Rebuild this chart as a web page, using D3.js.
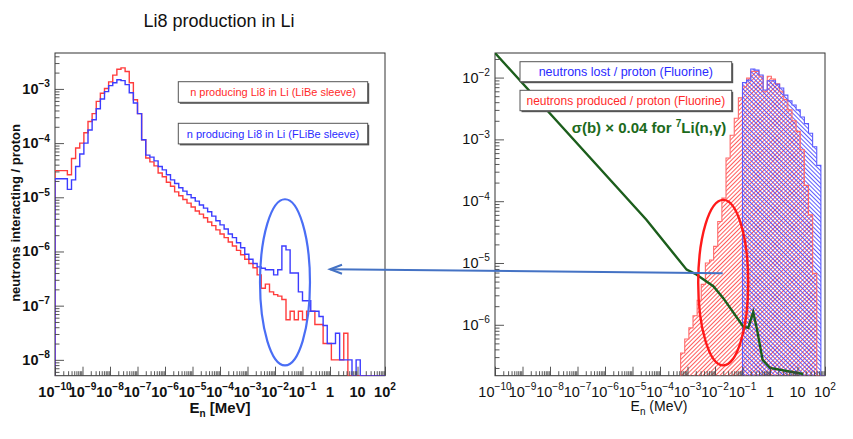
<!DOCTYPE html>
<html>
<head>
<meta charset="utf-8">
<script src="https://cdn.jsdelivr.net/npm/d3@7"></script>
<style>
  body { margin: 0; background: #fff; }
  text { font-family: "Liberation Sans", Arial, Helvetica, sans-serif; }
</style>
</head>
<body>
<div id="chart"></div>
<script>
// histogram binning: 80 log bins of 0.15 decade from 1e-10 MeV
const binLogMin = -10, binLogWidth = 0.15;

// left panel: n producing Li8 in Li, per bin
const libeSleeve = [
  3.1e-5, 3.1e-5, 3.1e-5, 2.6e-5, 5.2e-5, 8.1e-5, 1.0e-4, 1.55e-4, 2.5e-4, 3.5e-4,
  5.9e-4, 8.3e-4, 1.02e-3, 1.35e-3, 1.8e-3, 2.3e-3, 2.45e-3, 2.1e-3, 1.3e-3, 6.3e-4,
  3.5e-4, 1.15e-4, 5.3e-5, 4.5e-5, 3.8e-5, 2.8e-5, 2.4e-5, 1.9e-5, 1.6e-5, 1.26e-5,
  1.07e-5, 9.1e-6, 7.8e-6, 6.6e-6, 5.6e-6, 4.9e-6, 4.2e-6, 3.5e-6, 3.0e-6, 2.5e-6,
  2.1e-6, 1.8e-6, 1.5e-6, 1.26e-6, 1.05e-6, 8.7e-7, 7.2e-7, 6.0e-7, 5.0e-7, 3.7e-7,
  2.1e-7, 2.5e-7, 1.8e-7, 1.6e-7, 1.5e-7, 1.3e-7, 5.5e-8, 7.9e-8, 5.5e-8, 7.9e-8,
  5.5e-8, 7.9e-8, 7.9e-8, 4.5e-8, 4.5e-8, 2.0e-8, 2.0e-8, 1.0e-8, 1.0e-8, 1.0e-8,
  3.1e-8, 0, 0, 0, 0, 0, 0, 0, 0, 0
];
const flibeSleeve = [
  2.2e-5, 2.2e-5, 2.2e-5, 1.4e-5, 2.1e-5, 3.7e-5, 6.3e-5, 1.0e-4, 1.74e-4, 2.7e-4,
  4.3e-4, 6.5e-4, 8.9e-4, 1.15e-3, 1.3e-3, 1.48e-3, 1.42e-3, 1.2e-3, 8.5e-4, 5.5e-4,
  3.5e-4, 1.15e-4, 6.0e-5, 5.5e-5, 4.7e-5, 3.7e-5, 3.2e-5, 2.6e-5, 2.1e-5, 1.8e-5,
  1.5e-5, 1.3e-5, 1.12e-5, 9.8e-6, 8.5e-6, 7.2e-6, 6.3e-6, 5.4e-6, 4.5e-6, 3.7e-6,
  3.1e-6, 2.6e-6, 2.1e-6, 1.8e-6, 1.45e-6, 1.17e-6, 8.9e-7, 7.2e-7, 6.0e-7, 5.2e-7,
  4.9e-7, 4.6e-7, 4.6e-7, 3.7e-7, 4.6e-7, 1.26e-6, 1.07e-6, 4.0e-7, 4.0e-7, 1.8e-7,
  1.23e-7, 1.23e-7, 7.9e-8, 7.9e-8, 6.3e-8, 4.3e-8, 2.0e-8, 2.0e-8, 3.1e-8, 1.0e-8,
  1.0e-8, 1.0e-8, 0, 1.0e-8, 0, 0, 0, 0, 0, 0
];

// right panel: neutrons per proton (Fluorine), starting at the given bin
const producedFirstBin = 45;
const producedFluorine = [
  3.5e-7, 5.9e-7, 8.9e-7, 1.4e-6, 2.5e-6, 4.5e-6, 1.0e-5, 1.12e-5, 1.86e-5, 4.7e-5,
  1.12e-4, 5.0e-4, 1.17e-3, 2.2e-3, 4.7e-3, 7.1e-3, 9.8e-3, 1.26e-2, 1.26e-2, 1.05e-2,
  6.0e-3, 1.05e-2, 9.5e-3, 7.9e-3, 6.0e-3, 4.4e-3, 3.0e-3, 2.0e-3, 1.35e-3, 6.8e-4,
  1.8e-4, 6.0e-5, 6.8e-6, 0, 0
];
const lostFirstBin = 60;
const lostFluorine = [
  8.3e-3, 9.1e-3, 1.38e-2, 1.32e-2, 1.1e-2, 6.3e-3, 8.9e-3, 8.9e-3, 7.8e-3, 6.8e-3,
  5.2e-3, 4.2e-3, 3.6e-3, 3.0e-3, 2.3e-3, 1.8e-3, 1.26e-3, 7.6e-4, 3.8e-4, 0
];

// sigma(b) x 0.04 for 7Li(n,gamma)
const sigmaE   = [1e-10, 3.2e-5, 9.3e-4, 2.1e-3, 8.7e-3, 2.0e-2, 0.107, 0.162, 0.245, 0.339, 0.537, 1.0, 16.2];
const sigmaVal = [2.7e-2, 5.0e-5, 7.8e-6, 6.5e-6, 4.2e-6, 2.7e-6, 9.3e-7, 8.9e-7, 1.6e-6, 8.3e-7, 2.7e-7, 2.0e-7, 1.6e-7];

const xDecades = [-10, -9, -8, -7, -6, -5, -4, -3, -2, -1, 0, 1, 2];
const leftYDecades = [-8, -7, -6, -5, -4, -3];
const rightYDecades = [-6, -5, -4, -3, -2];

const W = 853, H = 439;
const svg = d3.select("#chart").append("svg").attr("width", W).attr("height", H);

const defs = svg.append("defs");
function hatch(id, color, angle) {
  defs.append("pattern")
    .attr("id", id).attr("patternUnits", "userSpaceOnUse")
    .attr("width", 3).attr("height", 3)
    .attr("patternTransform", `rotate(${angle})`)
    .append("line")
    .attr("x1", 0.5).attr("y1", -1).attr("x2", 0.5).attr("y2", 4)
    .attr("stroke", color).attr("stroke-width", 0.9);
}
hatch("hatchRed", "#ff4a4a", 45);
hatch("hatchBlue", "#4a4aff", -45);

const binEdge = (i) => Math.pow(10, binLogMin + binLogWidth * i);

function makePanel(p) {
  const x = d3.scaleLog().domain([1e-10, 1e2]).range([p.x0, p.x1]);
  const y = d3.scaleLog().domain(p.yDomain).range([p.bottom, p.top]).clamp(true);
  const g = svg.append("g");
  const clipId = "clip" + p.name;
  defs.append("clipPath").attr("id", clipId).append("rect")
    .attr("x", p.x0).attr("y", p.top)
    .attr("width", p.x1 - p.x0).attr("height", p.bottom - p.top);
  g.append("rect")
    .attr("x", p.x0).attr("y", p.top)
    .attr("width", p.x1 - p.x0).attr("height", p.bottom - p.top)
    .attr("fill", "none").attr("stroke", "#333").attr("stroke-width", 1);
  const plot = g.append("g").attr("clip-path", `url(#${clipId})`);
  return { x, y, g, plot, p };
}

function histPath(panel, vals, firstBin) {
  const { x, y, p } = panel;
  const pts = [[x(binEdge(firstBin)), p.bottom]];
  vals.forEach((v, j) => {
    const yy = v > 0 ? y(v) : p.bottom;
    pts.push([x(binEdge(firstBin + j)), yy], [x(binEdge(firstBin + j + 1)), yy]);
  });
  pts.push([x(binEdge(firstBin + vals.length)), p.bottom]);
  return d3.line()(pts);
}

function powLabel(t, n, fs) {
  if (n === 0) { t.text("1"); return; }
  if (n === 1) { t.text("10"); return; }
  t.append("tspan").text("10");
  t.append("tspan").attr("dy", -0.45 * fs).attr("font-size", fs * 0.7)
    .text(n < 0 ? "\u2212" + (-n) : String(n));
}

function drawAxes(panel, yDecades, bold) {
  const { x, y, g, p } = panel;
  const fs = 14.5;
  const weight = bold ? "bold" : "normal";
  const minorX = [];
  xDecades.slice(0, -1).forEach((n) => d3.range(2, 10).forEach((k) => minorX.push(k * Math.pow(10, n))));
  const minorY = [];
  const [lo, hi] = p.yDomain;
  d3.range(Math.floor(Math.log10(lo)), Math.ceil(Math.log10(hi))).forEach((n) =>
    d3.range(2, 10).forEach((k) => {
      const v = k * Math.pow(10, n);
      if (v > lo && v < hi) minorY.push(v);
    }));

  const ax = (axis, vals, size) => axis.tickValues(vals).tickSize(size).tickFormat("");
  const xg = g.append("g").attr("transform", `translate(0,${p.bottom})`);
  xg.append("g").call(ax(d3.axisBottom(x), xDecades.map((n) => Math.pow(10, n)), -9));
  xg.append("g").call(ax(d3.axisBottom(x), minorX, -4.5));
  const yg = g.append("g").attr("transform", `translate(${p.x0},0)`);
  yg.append("g").call(ax(d3.axisLeft(y), yDecades.map((n) => Math.pow(10, n)), -9));
  yg.append("g").call(ax(d3.axisLeft(y), minorY, -4.5));
  g.selectAll(".domain").remove();
  g.selectAll(".tick line").attr("stroke", "#444").attr("stroke-width", 0.9);

  xDecades.forEach((n) => {
    const t = g.append("text")
      .attr("x", x(Math.pow(10, n))).attr("y", p.bottom + 21)
      .attr("text-anchor", "middle").attr("font-size", fs)
      .attr("font-weight", weight).attr("fill", "#111");
    powLabel(t, n, fs);
  });
  yDecades.forEach((n) => {
    const t = g.append("text")
      .attr("x", p.x0 - 5).attr("y", y(Math.pow(10, n)) + 5)
      .attr("text-anchor", "end").attr("font-size", fs)
      .attr("font-weight", weight).attr("fill", "#111");
    powLabel(t, n, fs);
  });
}

function legendBox(x0, y0, w, h, label, color, fs) {
  svg.append("rect").attr("x", x0 + 1.5).attr("y", y0 + 1.5)
    .attr("width", w).attr("height", h).attr("fill", "#555");
  svg.append("rect").attr("x", x0).attr("y", y0)
    .attr("width", w).attr("height", h)
    .attr("fill", "#fff").attr("stroke", "#555").attr("stroke-width", 1);
  svg.append("text").attr("x", x0 + w / 2).attr("y", y0 + h / 2 + fs * 0.36)
    .attr("text-anchor", "middle").attr("font-size", fs).attr("fill", color)
    .text(label);
}

// ---------- left panel ----------
const left = makePanel({ name: "L", x0: 55, x1: 385, top: 53, bottom: 375.7, yDomain: [5.1e-9, 4.6e-3] });
left.plot.append("path").attr("d", histPath(left, libeSleeve, 0))
  .attr("fill", "none").attr("stroke", "#ff3c3c").attr("stroke-width", 1.4);
left.plot.append("path").attr("d", histPath(left, flibeSleeve, 0))
  .attr("fill", "none").attr("stroke", "#3c3cff").attr("stroke-width", 1.4);
drawAxes(left, leftYDecades, true);

// highlighted region on the left
const leftEll = { eLo: 2.85e-3, eHi: 0.187, vTop: 9.2e-6, vBot: 7.9e-9 };
svg.append("ellipse")
  .attr("cx", (left.x(leftEll.eLo) + left.x(leftEll.eHi)) / 2)
  .attr("cy", (left.y(leftEll.vTop) + left.y(leftEll.vBot)) / 2)
  .attr("rx", (left.x(leftEll.eHi) - left.x(leftEll.eLo)) / 2)
  .attr("ry", (left.y(leftEll.vBot) - left.y(leftEll.vTop)) / 2)
  .attr("fill", "none").attr("stroke", "#4a6ef5").attr("stroke-width", 2.2);

legendBox(178.3, 81.7, 189.4, 20.6, "n producing Li8 in Li (LiBe sleeve)", "#ff2a2a", 11);
legendBox(178.3, 123.3, 189.4, 20.6, "n producing Li8 in Li (FLiBe sleeve)", "#2a2aff", 11);

svg.append("text").attr("x", 219).attr("y", 27).attr("text-anchor", "middle")
  .attr("font-size", 18).attr("fill", "#111").text("Li8 production in Li");

svg.append("text")
  .attr("transform", "translate(20,213) rotate(-90)")
  .attr("text-anchor", "middle").attr("font-size", 13).attr("font-weight", "bold")
  .attr("fill", "#111").text("neutrons interacting / proton");

const lx = svg.append("text").attr("x", 220).attr("y", 413).attr("text-anchor", "middle")
  .attr("font-size", 15).attr("font-weight", "bold").attr("fill", "#111");
lx.append("tspan").text("E");
lx.append("tspan").attr("dy", 4).attr("font-size", 10).text("n");
lx.append("tspan").attr("dy", -4).text(" [MeV]");

// ---------- right panel ----------
const right = makePanel({ name: "R", x0: 495, x1: 825, top: 53, bottom: 375.7, yDomain: [1.5e-7, 2.5e-2] });
const pathRed = histPath(right, producedFluorine, producedFirstBin);
const pathBlue = histPath(right, lostFluorine, lostFirstBin);
right.plot.append("path").attr("d", pathRed).attr("fill", "url(#hatchRed)").attr("stroke", "none");
right.plot.append("path").attr("d", pathBlue).attr("fill", "url(#hatchBlue)").attr("stroke", "none");
right.plot.append("path").attr("d", pathRed).attr("fill", "none").attr("stroke", "#ff6a6a").attr("stroke-width", 1.1);
right.plot.append("path").attr("d", pathBlue).attr("fill", "none").attr("stroke", "#5a5aff").attr("stroke-width", 1.1);

right.plot.append("path")
  .attr("d", d3.line().x((d) => right.x(d[0])).y((d) => right.y(d[1]))(sigmaE.map((e, i) => [e, sigmaVal[i]])))
  .attr("fill", "none").attr("stroke", "#1c5e1c").attr("stroke-width", 2.4);

drawAxes(right, rightYDecades, false);

const rightEll = { eLo: 2.45e-3, eHi: 0.162, vTop: 1.05e-4, vBot: 2.2e-7 };
svg.append("ellipse")
  .attr("cx", (right.x(rightEll.eLo) + right.x(rightEll.eHi)) / 2)
  .attr("cy", (right.y(rightEll.vTop) + right.y(rightEll.vBot)) / 2)
  .attr("rx", (right.x(rightEll.eHi) - right.x(rightEll.eLo)) / 2)
  .attr("ry", (right.y(rightEll.vBot) - right.y(rightEll.vTop)) / 2)
  .attr("fill", "none").attr("stroke", "#ff1a1a").attr("stroke-width", 2.4);

legendBox(520, 61.7, 211.7, 20, "neutrons lost / proton (Fluorine)", "#2a2aff", 12.5);
legendBox(520, 90.3, 211.7, 20.4, "neutrons produced / proton (Fluorine)", "#ff2a2a", 12);

const gt = svg.append("text").attr("x", 571.7).attr("y", 133)
  .attr("font-size", 15).attr("font-weight", "bold").attr("fill", "#1c6a1c");
gt.append("tspan").text("\u03c3(b) \u00d7 0.04 for ");
gt.append("tspan").attr("dy", -6).attr("font-size", 10).text("7");
gt.append("tspan").attr("dy", 6).text("Li(n,\u03b3)");

const rx = svg.append("text").attr("x", 659).attr("y", 411).attr("text-anchor", "middle")
  .attr("font-size", 14).attr("fill", "#111");
rx.append("tspan").text("E");
rx.append("tspan").attr("dy", 4).attr("font-size", 10).text("n");
rx.append("tspan").attr("dy", -4).text(" (MeV)");

// ---------- arrow from right region to left region ----------
const arrowFrom = { e: 0.019, v: 6.8e-6 };
const arrowTo = { e: 1.0, v: 4.7e-7 };
const ax0 = right.x(arrowFrom.e), ay0 = right.y(arrowFrom.v);
const ax1 = left.x(arrowTo.e), ay1 = left.y(arrowTo.v);
svg.append("line").attr("x1", ax0).attr("y1", ay0).attr("x2", ax1).attr("y2", ay1)
  .attr("stroke", "#4472c4").attr("stroke-width", 2);
svg.append("path")
  .attr("d", `M${ax1 + 12},${ay1 - 4.5} L${ax1},${ay1} L${ax1 + 12},${ay1 + 4.5}`)
  .attr("fill", "none").attr("stroke", "#4472c4").attr("stroke-width", 2);
</script>
</body>
</html>
